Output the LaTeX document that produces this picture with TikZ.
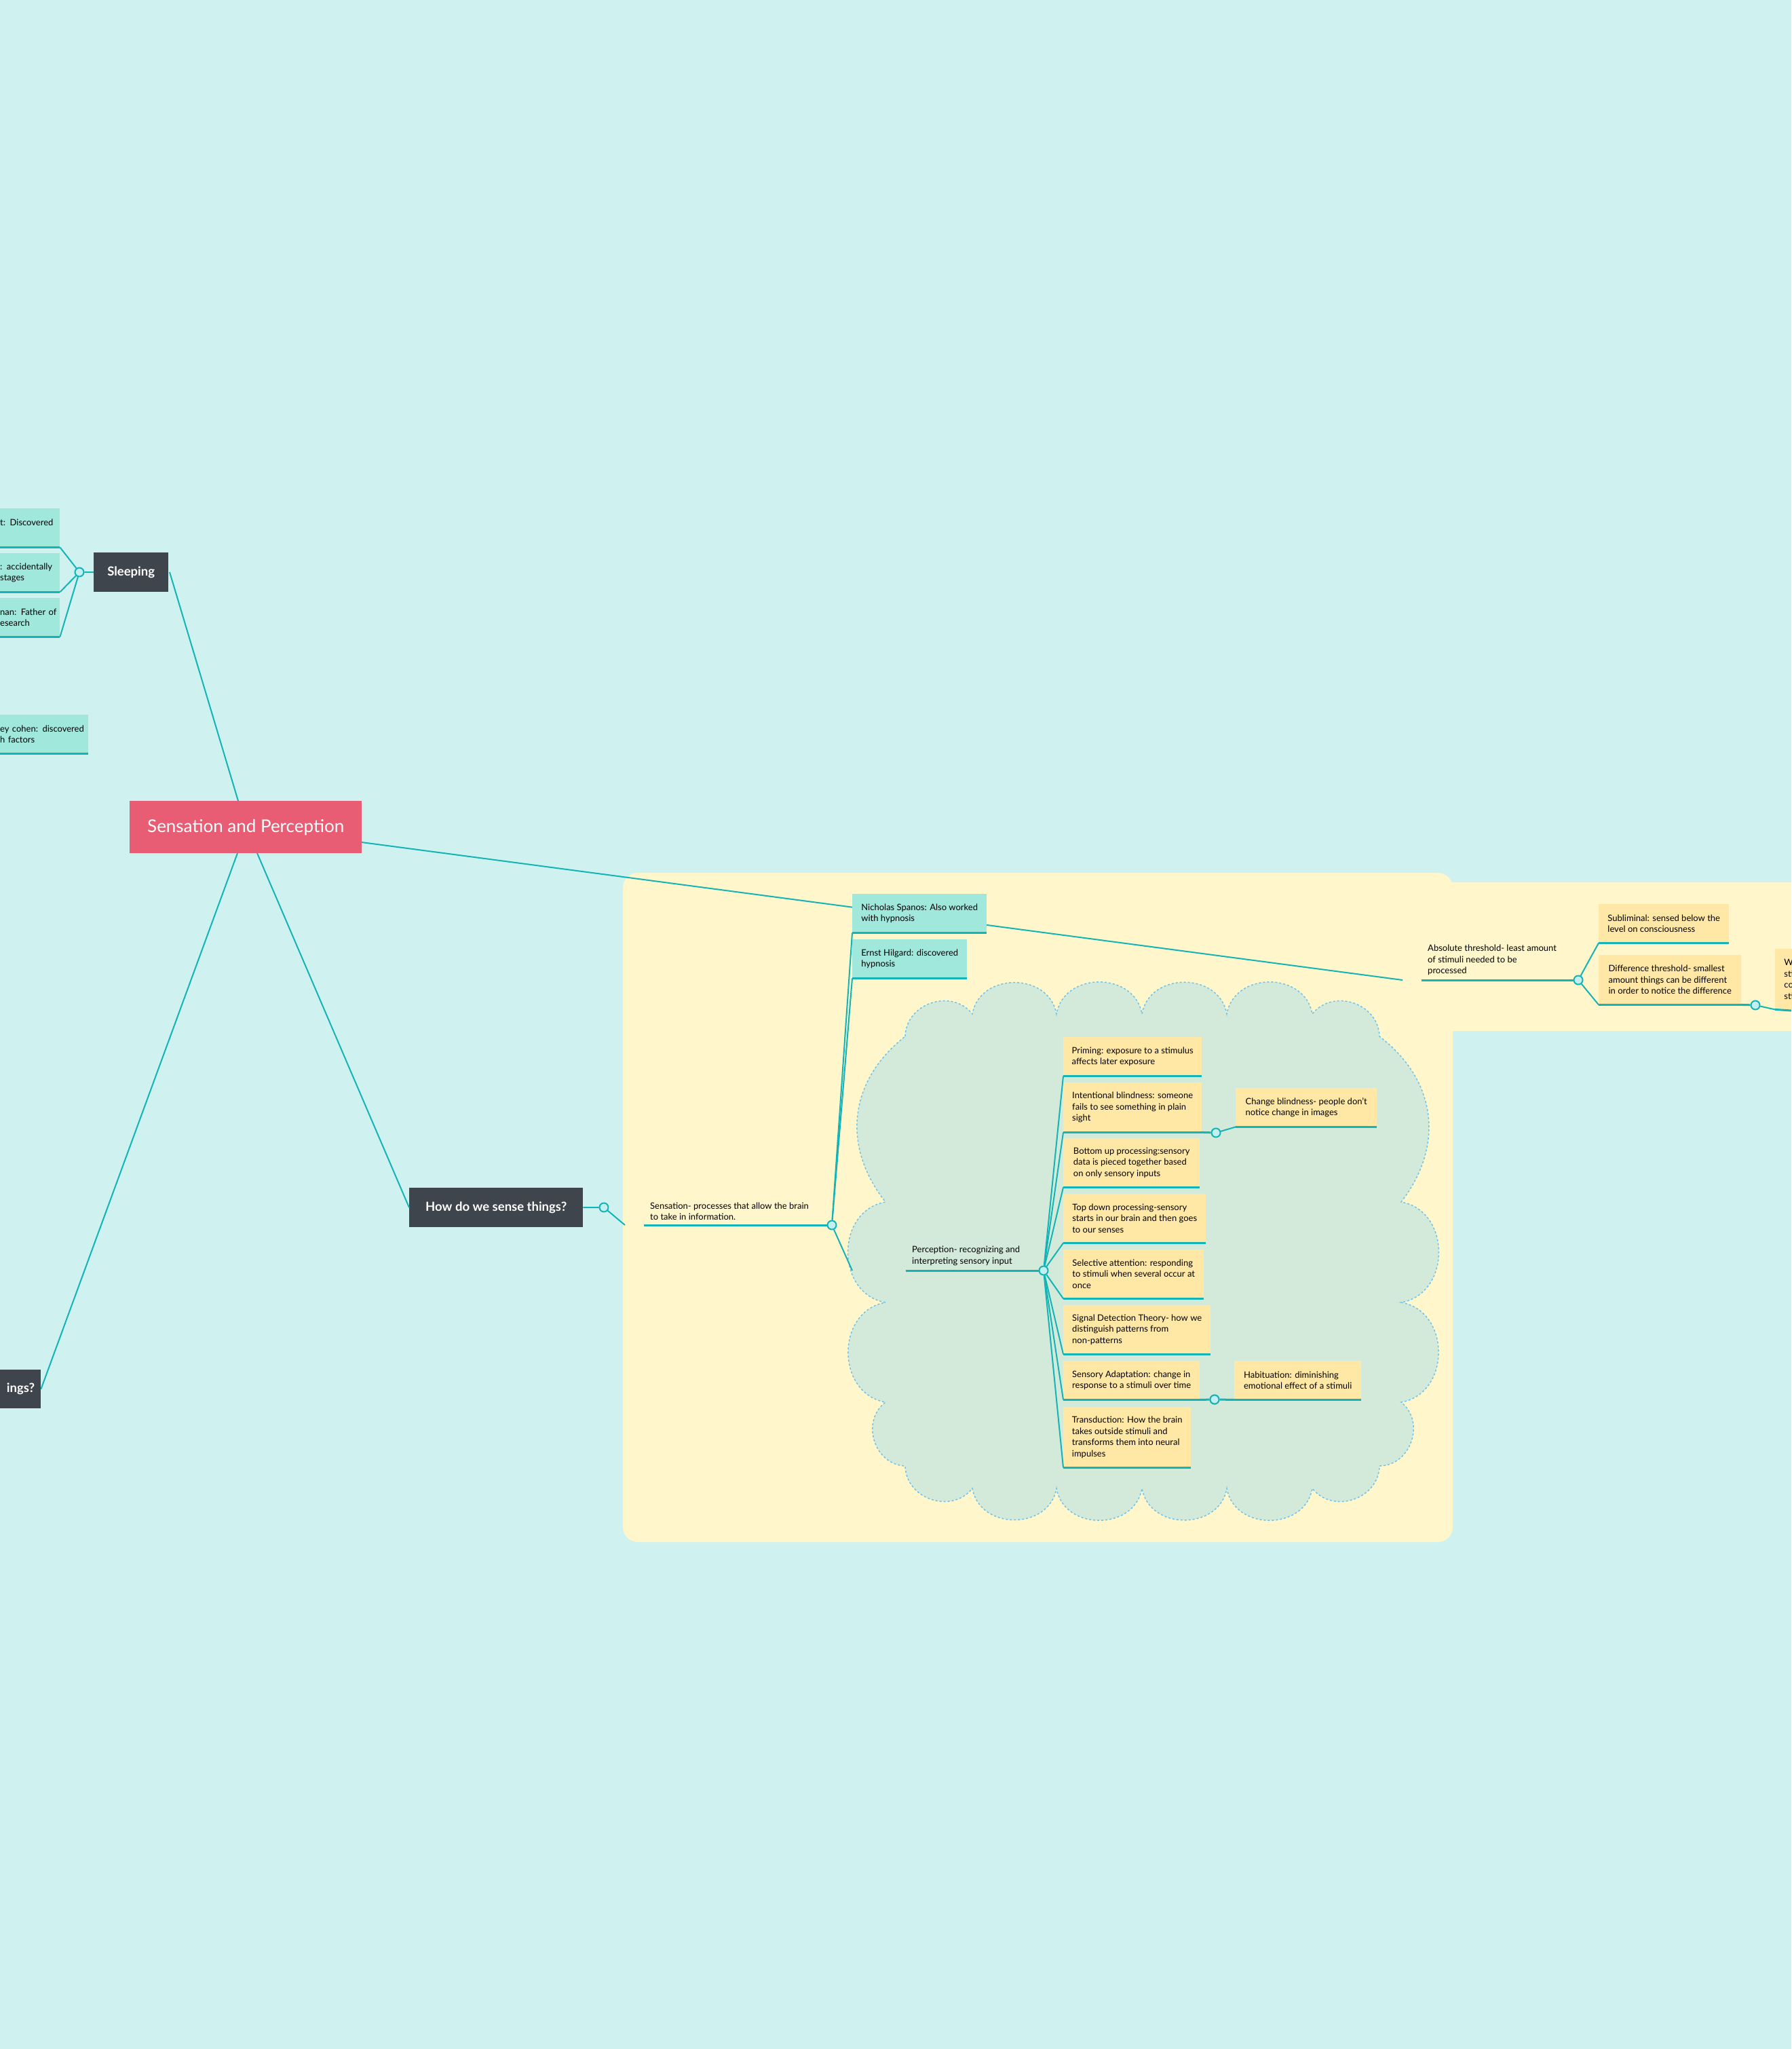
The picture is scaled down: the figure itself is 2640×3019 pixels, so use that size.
\documentclass[tikz,border=0pt]{standalone}
\usepackage{fontspec}
\setmainfont{Lato}
\definecolor{bgc}{HTML}{CFF2F1}
\definecolor{bigy}{HTML}{FFF6CC}
\definecolor{tbox}{HTML}{A0E7DC}
\definecolor{ybox}{HTML}{FFE8A5}
\definecolor{cloudf}{HTML}{D3EADB}
\definecolor{cloudb}{HTML}{6DC3EE}
\definecolor{tealc}{HTML}{14B3B5}
\definecolor{darkc}{HTML}{3E454D}
\definecolor{redc}{HTML}{E85D73}
\definecolor{hubf}{HTML}{C4EFF0}
\newcommand\bodyfont{\fontsize{13}{16.5}\selectfont}
\tikzset{
  conn/.style={draw=tealc, line width=2pt},
  uline/.style={draw=tealc, line width=3pt},
  hub/.style={circle, draw=tealc, fill=hubf, line width=2pt, minimum size=13pt, inner sep=0pt},
  boxs/.style={anchor=north west, inner xsep=12pt, inner ysep=0pt, align=left, font=\bodyfont},
  plain/.style={anchor=south west, inner xsep=9pt, inner ysep=7pt, align=left, font=\bodyfont},
  topic/.style={fill=darkc, text=white, font=\fontsize{18.5}{22}\selectfont\bfseries, inner sep=0pt, anchor=north west},
  bumpa/.style={bend left=80, looseness=1.3},
  bumpb/.style={bend left=45, looseness=1.1},
  bumpc/.style={bend left=70, looseness=1.2},
}
% name, x, y, w, h, fill, text
\newcommand\bx[7]{\node[boxs, fill=#6, minimum width=#4pt, minimum height=#5pt] (#1) at (#2,#3) {#7};
\draw[uline] (#1.south west) -- ([xshift=#4pt]#1.south west);}
\begin{document}
\begin{tikzpicture}[x=1pt,y=-1pt]
\fill[bgc] (0,0) rectangle (2640,3019);
\useasboundingbox (0,0) rectangle (2640,3019);
% yellow regions
\fill[bigy] (2132,1300) rectangle (2640,1519);
\fill[bigy, rounded corners=22pt] (918,1286) rectangle (2141,2272);
% cloud
\filldraw[fill=cloudf, draw=cloudb, dashed, line width=1.5pt]
 (1334,1527) to[bumpc] (1433,1494) to[bumpa] (1557,1494) to[bumpa] (1683,1494) to[bumpa] (1808,1494) to[bumpa] (1934,1494) to[bumpc] (2033,1527)
 to[bumpb] (2065,1771) to[bumpa] (2065,1919) to[bumpa] (2065,2066) to[bumpc] (2033,2160)
 to[bumpc] (1934,2193) to[bumpa] (1808,2193) to[bumpa] (1683,2193) to[bumpa] (1557,2193) to[bumpa] (1433,2193) to[bumpc] (1334,2160)
 to[bumpc] (1305,2066) to[bumpa] (1305,1919) to[bumpa] (1305,1771) to[bumpb] cycle;

% main nodes
\node[fill=redc, text=white, font=\fontsize{26}{30}\selectfont, minimum width=342pt, minimum height=77pt, inner sep=0pt, anchor=north west] (central) at (191,1180) {Sensation and Perception};
\node[topic, minimum width=110pt, minimum height=58pt] (sleep) at (138,814) {Sleeping};
\node[topic, minimum width=256pt, minimum height=58pt] (how) at (603,1750) {How do we sense things?};
\node[topic, minimum width=60pt, minimum height=57pt, align=right, text width=42pt, inner xsep=0pt] (ings) at (0,2018) {\hfill ings?};

% sleeping children (cut at left edge)
\newcommand\lbx[5]{\node[anchor=north west, fill=tbox, inner sep=0pt, minimum width=#4pt, minimum height=57pt, text width=#4pt, align=left, font=\bodyfont] (#1) at (#2,#3) {#5};
\draw[uline] (#1.south west) -- (#1.south east);}
\lbx{sa}{0}{749}{88}{t: Discovered\\\mbox{}}
\lbx{sb}{0}{815}{88}{: accidentally\\stages}
\lbx{sc}{0}{881}{88}{nan: Father of\\esearch}
\lbx{sd}{0}{1053}{130}{ey cohen: discovered\\h factors}
\node[hub] (sh) at (117,843) {};
\draw[conn] (sleep.west) -- (sh);
\draw[conn] (sh) -- (sa.south east);
\draw[conn] (sh) -- (sb.south east);
\draw[conn] (sh) -- (sc.south east);

% central connectors
\coordinate (sleepr) at (250,843);
\coordinate (centtop) at (351,1180);
\draw[conn] (sleepr) -- (centtop);
\draw[conn] (379,1257) coordinate (cb1) -- (how.west);
\draw[conn] (350,1257) coordinate (cb2) -- (ings.east);
\coordinate (centr) at (533,1241);
\coordinate (absl) at (2067,1444);
\draw[conn] (centr) -- (absl);

% Absolute threshold
\node[plain] (abs) at (2095,1444) {Absolute threshold- least amount\\of stimuli needed to be\\processed};
\node[hub] (ah) at (2326,1444) {};
\draw[uline] (abs.south west) -- (ah);
\bx{sub}{2356}{1332}{192}{57}{ybox}{Subliminal: sensed below the\\level on consciousness}
\bx{diff}{2356}{1407}{210}{73}{ybox}{Difference threshold- smallest\\amount things can be different\\in order to notice the difference}
\draw[conn] (ah) -- (sub.south west);
\draw[conn] (ah) -- (diff.south west);
\node[hub] (dh) at (2587,1481) {};
\draw[uline] ([xshift=210pt]diff.south west) -- (dh);
\node[anchor=north west, fill=ybox, inner xsep=13pt, inner ysep=0pt, minimum width=40pt, minimum height=89pt, align=left, font=\bodyfont] (wb) at (2616,1398) {W\\sti\\co\\sti};
\draw[uline] (wb.south west) -- (2640,1489) coordinate (wend);
\draw[conn] (dh) -- (wb.south west);

% How -> Sensation
\node[hub] (hh) at (890,1779) {};
\draw[conn] (how.east) -- (hh);
\coordinate (yedge) at (921,1805);
\draw[conn] (hh) -- (yedge);
\node[plain] (sens) at (949,1805) {Sensation- processes that allow the brain\\to take in information.};
\node[hub] (sh2) at (1226,1805) {};
\draw[uline] (sens.south west) -- (sh2);

% Spanos and Hilgard
\bx{hil}{1256}{1384}{169}{57}{tbox}{Ernst Hilgard: discovered\\hypnosis}
\bx{spa}{1256}{1317}{198}{57}{tbox}{Nicholas Spanos: Also worked\\with hypnosis}
\draw[conn] (sh2) -- (spa.south west);
\draw[conn] (sh2) -- (hil.south west);
\coordinate (cloudl) at (1256,1872);
\draw[conn] (sh2) -- (cloudl);

% Perception
\node[plain] (perc) at (1335,1872) {Perception- recognizing and\\interpreting sensory input};
\node[hub] (ph) at (1538,1872) {};
\draw[uline] (perc.south west) -- (ph);
\bx{pri}{1567}{1528}{204}{57}{ybox}{Priming: exposure to a stimulus\\affects later exposure}
\bx{int}{1567}{1595}{204}{73}{ybox}{Intentional blindness: someone\\fails to see something in plain\\sight}
\bx{bot}{1567}{1677}{201}{72}{ybox}{Bottom up processing:sensory\\data is pieced together based\\on only sensory inputs}
\bx{top}{1567}{1759}{210}{72}{ybox}{Top down processing-sensory\\starts in our brain and then goes\\to our senses}
\bx{sel}{1567}{1841}{207}{72}{ybox}{Selective attention: responding\\to stimuli when several occur at\\once}
\bx{sig}{1567}{1923}{217}{72}{ybox}{Signal Detection Theory- how we\\distinguish patterns from\\non-patterns}
\bx{sad}{1567}{2005}{201}{57}{ybox}{Sensory Adaptation: change in\\response to a stimuli over time}
\bx{tra}{1567}{2073}{188}{89}{ybox}{Transduction: How the brain\\takes outside stimuli and\\transforms them into neural\\impulses}
\foreach \n in {pri,int,bot,top,sel,sig,sad,tra} { \draw[conn] (ph) -- (\n.south west); }
\bx{chg}{1821}{1603}{208}{57}{ybox}{Change blindness- people don't\\notice change in images}
\node[hub] (ih) at (1792,1669) {};
\draw[uline] ([xshift=204pt]int.south west) -- (ih);
\draw[conn] (ih) -- (chg.south west);
\bx{hab}{1819}{2005}{187}{57}{ybox}{Habituation: diminishing\\emotional effect of a stimuli}
\node[hub] (sah) at (1790,2062) {};
\draw[uline] ([xshift=201pt]sad.south west) -- (sah);
\draw[uline] (sah) -- (hab.south west);
\node[hub] at (1790,2062) {};
\end{tikzpicture}
\end{document}
